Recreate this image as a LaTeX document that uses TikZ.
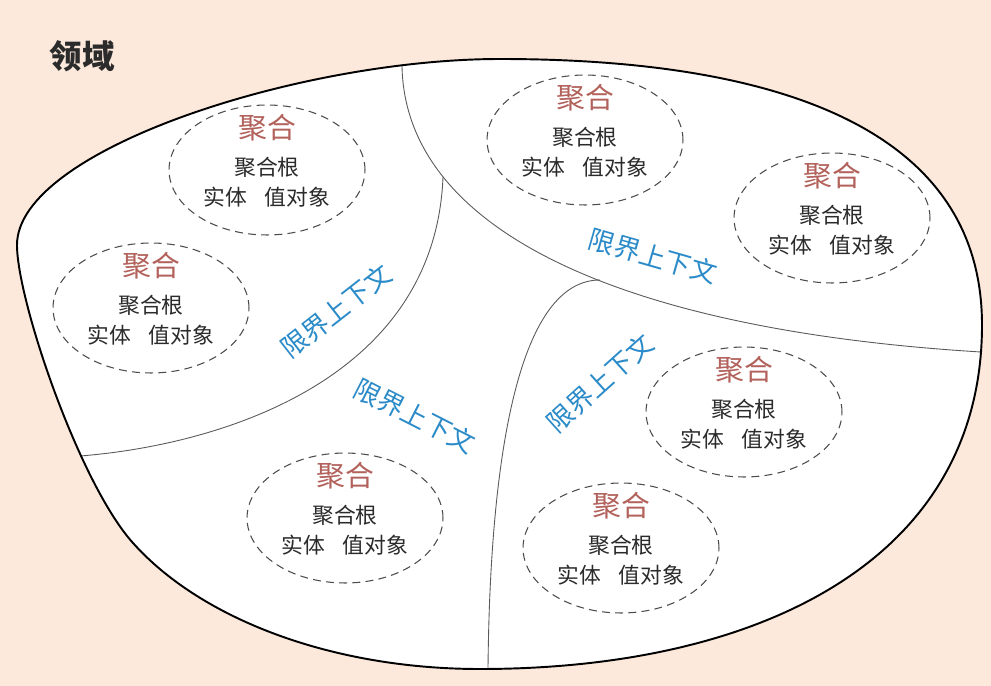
\documentclass[tikz,border=0pt]{standalone}
\usepackage{fontspec}
\setmainfont{Noto Sans CJK SC}
\usetikzlibrary{shapes.geometric}

\definecolor{peach}{HTML}{FCE9DC}
\definecolor{aggred}{HTML}{B2615B}
\definecolor{ctxblue}{HTML}{2B8BC9}
\definecolor{inkgray}{HTML}{2B2B2B}

\newcommand{\domainshape}{(17,245) .. controls (17,150) and (300,59) .. (500,59)
  .. controls (770,59) and (982,125) .. (982,325)
  .. controls (982,560) and (760,669) .. (480,669)
  .. controls (330,669) and (200,618) .. (133,543)
  .. controls (79,483) and (17,300) .. (17,245) -- cycle}

\tikzset{
  aggregate/.style={ellipse, draw=black!70, dash pattern=on 4.5pt off 3pt, line width=0.6pt,
    minimum width=3.92cm, minimum height=2.6cm, inner sep=0pt},
  aggtitle/.style={text=aggred, font=\fontsize{16.4}{18}\selectfont, inner sep=0pt},
  aggtext/.style={text=inkgray, font=\fontsize{12.4}{14}\selectfont, inner sep=0pt},
  ctxlabel/.style={text=ctxblue, font=\fontsize{15}{17}\selectfont, inner sep=0pt},
  border/.style={draw=black!65, line width=0.5pt}
}

\begin{document}
\begin{tikzpicture}[x=0.02cm, y=-0.02cm]
        \fill[peach] (0,0) rectangle (991,686);
        \useasboundingbox (0,0) rectangle (991,686);

        % the domain
        \fill[white] \domainshape;

        \begin{scope}
          \clip \domainshape;
          \draw[border] (402,50) -- (402,66) .. controls (405,230) and (620,330) .. (981,352) -- (1000,354);
          \draw[border] (443,177) .. controls (435,380) and (220,445) .. (80,456) -- (50,459);
          \draw[border] (600,280) .. controls (520,280) and (490,450) .. (488,669) -- (488,690);
        \end{scope}

        \draw[line width=1.1pt] \domainshape;

        \node[text=inkgray, font=\fontsize{18.5}{20}\selectfont\bfseries, inner sep=0pt] (domain) at (82,56) {领域};

        % aggregates
        \foreach \n/\x/\y in {a/267/170, b/151/308, c/345/518, d/585/140, e/832/218, f/744/412, g/621/548} {
          \node[aggregate] (\n) at (\x,\y) {};
          \node[aggtitle] (\n-title) at (\x,\y-42) {聚合};
          \node[aggtext] (\n-root) at (\x,\y-3) {聚合根};
          \node[aggtext] (\n-parts) at (\x,\y+27) {实体\hspace{0.8em}值对象};
        }

        % bounded contexts
        \node[ctxlabel, rotate=38] (ctx1) at (336,311) {限界上下文};
        \node[ctxlabel, rotate=-27] (ctx2) at (415,416) {限界上下文};
        \node[ctxlabel, rotate=-16] (ctx3) at (653,256) {限界上下文};
        \node[ctxlabel, rotate=42] (ctx4) at (600,383) {限界上下文};
\end{tikzpicture}
\end{document}
